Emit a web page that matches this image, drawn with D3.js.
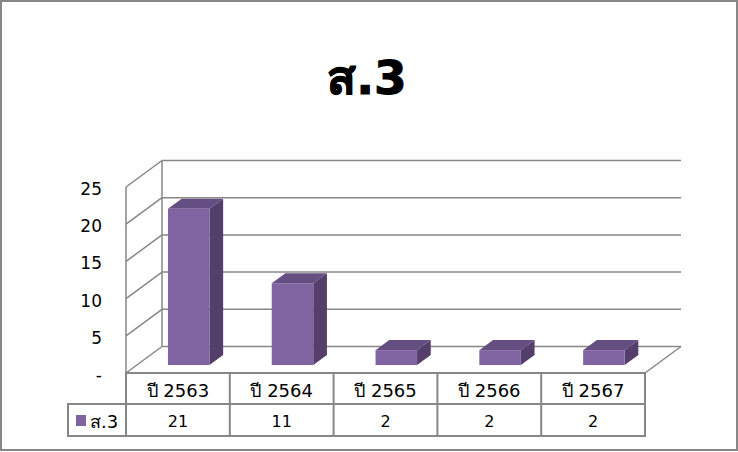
<html lang="th">
<head>
<meta charset="utf-8">
<script src="https://d3js.org/d3.v7.min.js"></script>
<style>
  body { margin: 0; background: #fff; }
  text { font-family: Tahoma, "DejaVu Sans", "Noto Sans", sans-serif; fill: #000; }
</style>
</head>
<body>
<script>
// data
var categories = ["ปี 2563", "ปี 2564", "ปี 2565", "ปี 2566", "ปี 2567"];
var values = [21, 11, 2, 2, 2];
var seriesName = "ส.3";
var yTicks = [0, 5, 10, 15, 20, 25];

var width = 738, height = 452;
var svg = d3.select("body").append("svg")
  .attr("width", width).attr("height", height);

// outer frame
svg.append("rect")
  .attr("x", 1).attr("y", 1).attr("width", 736).attr("height", 449)
  .attr("fill", "#fff").attr("stroke", "#878787").attr("stroke-width", 2);

// title
svg.append("text")
  .attr("x", 367).attr("y", 94)
  .attr("text-anchor", "middle")
  .attr("font-size", "47px").attr("font-weight", "bold")
  .attr("stroke", "#000").attr("stroke-width", 1)
  .text(seriesName);

// 3d plot frame
var left = 126, right = 645, floorY = 373;
var depth = [36, -26.5];
var x = d3.scaleBand().domain(categories).range([left, right]);
var y = d3.scaleLinear().domain([0, 25]).range([floorY, 187]);
var grid = "#878787";

var g = svg.append("g");
// back wall gridlines + left wall diagonals
yTicks.forEach(function(t) {
  g.append("line")
    .attr("x1", left + depth[0]).attr("x2", right + depth[0])
    .attr("y1", y(t) + depth[1]).attr("y2", y(t) + depth[1])
    .attr("stroke", grid).attr("stroke-width", 1.5);
  g.append("line")
    .attr("x1", left).attr("y1", y(t))
    .attr("x2", left + depth[0]).attr("y2", y(t) + depth[1])
    .attr("stroke", grid).attr("stroke-width", 1.5);
});
// back wall left edge & front axis
g.append("line")
  .attr("x1", left + depth[0]).attr("x2", left + depth[0])
  .attr("y1", y(25) + depth[1]).attr("y2", y(0) + depth[1])
  .attr("stroke", grid).attr("stroke-width", 1.5);
g.append("line")
  .attr("x1", left).attr("x2", left)
  .attr("y1", y(25)).attr("y2", y(0))
  .attr("stroke", grid).attr("stroke-width", 1.5);
// floor right edge
g.append("line")
  .attr("x1", right).attr("y1", y(0))
  .attr("x2", right + depth[0]).attr("y2", y(0) + depth[1])
  .attr("stroke", grid).attr("stroke-width", 1.5);

// y labels
svg.selectAll(".ylab").data(yTicks).enter().append("text")
  .attr("class", "ylab")
  .attr("x", 102).attr("y", function(d) { return y(d) + 2; })
  .attr("dy", "0.35em")
  .attr("text-anchor", "end")
  .attr("font-size", "17px")
  .text(function(d) { return d === 0 ? "-" : d; });

// bars
var f0 = 0.3, f1 = 0.68, bw = x.bandwidth() * 0.4;
var bars = svg.selectAll(".bar").data(values).enter().append("g").attr("class", "bar");
bars.each(function(v, i) {
  var gb = d3.select(this);
  var x0 = x(categories[i]) + x.bandwidth() / 2 - bw / 2 + depth[0] * f0;
  var yb = y(0) + depth[1] * f0;
  var yt = yb - (y(0) - y(v));
  var dx = depth[0] * (f1 - f0), dy = depth[1] * (f1 - f0);
  // top
  gb.append("path")
    .attr("d", "M" + x0 + "," + yt + "L" + (x0 + dx) + "," + (yt + dy) +
      "L" + (x0 + bw + dx) + "," + (yt + dy) + "L" + (x0 + bw) + "," + yt + "Z")
    .attr("fill", "#644e82");
  // side
  gb.append("path")
    .attr("d", "M" + (x0 + bw) + "," + yt + "L" + (x0 + bw + dx) + "," + (yt + dy) +
      "L" + (x0 + bw + dx) + "," + (yb + dy) + "L" + (x0 + bw) + "," + yb + "Z")
    .attr("fill", "#543f6c");
  // front
  gb.append("rect")
    .attr("x", x0).attr("y", yt).attr("width", bw).attr("height", yb - yt)
    .attr("fill", "#8064a2");
});

// data table
var rowTop = floorY, rowMid = 404, rowBot = 436, legLeft = 68;
var tbl = svg.append("g").attr("stroke", grid).attr("stroke-width", 2).attr("fill", "none");
tbl.append("rect").attr("x", left).attr("y", rowTop).attr("width", right - left).attr("height", rowMid - rowTop);
tbl.append("rect").attr("x", legLeft).attr("y", rowMid).attr("width", right - legLeft).attr("height", rowBot - rowMid);
categories.forEach(function(c) {
  tbl.append("line").attr("x1", x(c)).attr("x2", x(c)).attr("y1", rowTop).attr("y2", rowBot);
});

svg.selectAll(".cat").data(categories).enter().append("text")
  .attr("x", function(d) { return x(d) + x.bandwidth() / 2; })
  .attr("y", 397)
  .attr("text-anchor", "middle").attr("font-size", "18px")
  .text(function(d) { return d; });

svg.selectAll(".val").data(values).enter().append("text")
  .attr("x", function(d, i) { return x(categories[i]) + x.bandwidth() / 2; })
  .attr("y", 427)
  .attr("text-anchor", "middle").attr("font-size", "16px")
  .text(function(d) { return d; });

svg.append("rect").attr("x", 76).attr("y", 415).attr("width", 10).attr("height", 11).attr("fill", "#8064a2");
svg.append("text").attr("x", 90).attr("y", 428).attr("font-size", "18px").text(seriesName);
</script>
</body>
</html>
